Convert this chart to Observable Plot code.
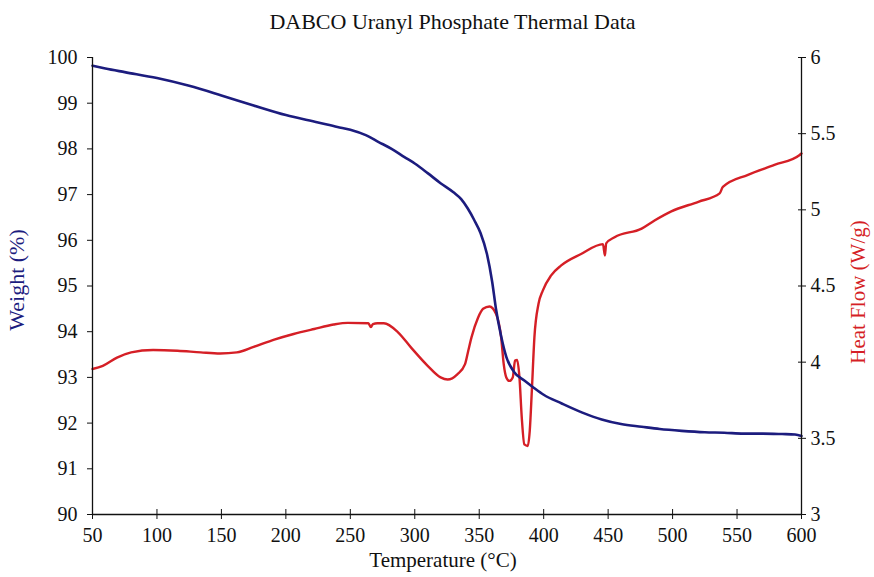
<!DOCTYPE html>
<html>
<head>
<meta charset="utf-8">
<script src="https://cdn.jsdelivr.net/npm/d3@7"></script>
<script src="https://cdn.jsdelivr.net/npm/@observablehq/plot@0.6"></script>
<style>
  html, body { margin: 0; padding: 0; background: #fff; }
  #title { box-sizing: border-box; width: 874px; height: 38px; padding-left: 104px; padding-right: 73px;
    text-align: center; font-family: "Liberation Serif", "DejaVu Serif", serif; font-size: 22px; line-height: 44px; color: #111; overflow: visible; white-space: nowrap; }
  svg text { font-family: "Liberation Serif", "DejaVu Serif", serif; }
</style>
</head>
<body>
<div id="title">DABCO Uranyl Phosphate Thermal Data</div>
<div id="chart"></div>
<script>
// Weight (%) vs temperature (°C)
const tempW = [50, 60, 75, 100, 125, 150, 175, 200, 225, 240, 250, 262, 272, 282, 292, 300, 310, 320, 330, 336, 341, 346, 351, 356, 360, 363, 367, 371, 377, 385, 392, 400, 414, 430, 445, 460, 476, 490, 507, 525, 540, 555, 570, 585, 595, 600];
const weight = [99.82, 99.76, 99.68, 99.55, 99.38, 99.17, 98.95, 98.74, 98.58, 98.48, 98.42, 98.3, 98.15, 98.0, 97.82, 97.68, 97.47, 97.25, 97.05, 96.9, 96.7, 96.45, 96.16, 95.7, 95.1, 94.5, 93.9, 93.45, 93.12, 92.93, 92.78, 92.62, 92.43, 92.23, 92.08, 91.98, 91.92, 91.87, 91.83, 91.8, 91.79, 91.77, 91.77, 91.76, 91.75, 91.72];

// Heat flow (W/g) vs temperature (°C)
const tempH = [50, 58, 69, 80, 97, 116, 134, 149, 162, 175, 191, 206, 222, 237, 248, 264, 266, 267.5, 271, 276, 287, 297, 310, 320, 325.5, 333, 339, 341.5, 344, 349, 353, 358, 363, 367, 369, 371, 373.4, 376, 377.8, 379.4, 381.2, 383, 385, 387.7, 389.2, 390.8, 392.8, 396, 399.3, 405.8, 413.6, 429, 446, 447.5, 448.5, 455, 476, 486, 499, 520, 536.5, 539, 558.5, 579, 598.6, 600];
const heatFlow = [3.955, 3.976, 4.03, 4.064, 4.08, 4.075, 4.064, 4.057, 4.064, 4.10, 4.148, 4.185, 4.218, 4.247, 4.258, 4.255, 4.23, 4.25, 4.255, 4.255, 4.196, 4.097, 3.976, 3.90, 3.886, 3.92, 3.987, 4.075, 4.163, 4.29, 4.35, 4.365, 4.317, 4.163, 3.987, 3.90, 3.877, 3.90, 4.01, 4.014, 3.90, 3.636, 3.46, 3.45, 3.55, 3.81, 4.163, 4.383, 4.47, 4.57, 4.635, 4.71, 4.775, 4.70, 4.78, 4.82, 4.877, 4.93, 4.99, 5.053, 5.108, 5.15, 5.23, 5.295, 5.36, 5.37];

// Tick labels
const xTicks = [50, 100, 150, 200, 250, 300, 350, 400, 450, 500, 550, 600];
const weightTicks = [90, 91, 92, 93, 94, 95, 96, 97, 98, 99, 100];
const heatTicks = [3, 3.5, 4, 4.5, 5, 5.5, 6];

const navy = "#1c1c7e";
const red = "#d51f26";

// map heat flow (3..6) onto the weight scale (90..100)
const hToW = h => 90 + (h - 3) * 10 / 3;
const wToH = w => Math.round((3 + (w - 90) * 0.3) * 10) / 10;

const weightData = tempW.map((t, i) => ({t, v: weight[i]}));
const heatData = tempH.map((t, i) => ({t, v: hToW(heatFlow[i])}));

const chart = Plot.plot({
  width: 874,
  height: 539,
  marginLeft: 92,
  marginRight: 73,
  marginTop: 19,
  marginBottom: 63,
  style: {fontFamily: "Liberation Serif, serif", fontSize: "20px", color: "#111", background: "#fff"},
  x: {domain: [50, 600]},
  y: {domain: [90, 100]},
  marks: [
    Plot.line(heatData, {x: "t", y: "v", stroke: red, strokeWidth: 2.4, curve: "monotone-x"}),
    Plot.line(weightData, {x: "t", y: "v", stroke: navy, strokeWidth: 2.6, curve: "monotone-x"}),
    Plot.ruleX([50, 600], {stroke: "#111", strokeWidth: 1.3}),
    Plot.ruleY([90], {stroke: "#111", strokeWidth: 1.3}),
    Plot.axisX(xTicks, {anchor: "bottom", tickSize: 5, tickPadding: 8, label: null, tickFormat: d => d}),
    Plot.axisX(xTicks, {anchor: "bottom", tickSize: -5, label: null, tickFormat: () => ""}),
    Plot.axisY(weightTicks, {anchor: "left", tickSize: 5, tickPadding: 10, label: null, tickFormat: d => d}),
    Plot.axisY(heatTicks.map(hToW), {anchor: "right", tickSize: 4, tickPadding: 5, label: null, tickFormat: w => String(wToH(w))}),
    Plot.axisY(heatTicks.map(hToW), {anchor: "right", tickSize: -4, label: null, tickFormat: () => ""}),
    Plot.text(["Weight (%)"], {frameAnchor: "left", textAnchor: "middle", rotate: -90, dx: -76, dy: -6, fill: navy, fontSize: 22}),
    Plot.text(["Heat Flow (W/g)"], {frameAnchor: "right", textAnchor: "middle", rotate: -90, dx: 57, dy: 6, fill: red, fontSize: 21}),
    Plot.text(["Temperature (°C)"], {frameAnchor: "bottom", dx: -4, dy: 52, fill: "#111", fontSize: 21})
  ]
});
document.getElementById("chart").appendChild(chart);
</script>
</body>
</html>
